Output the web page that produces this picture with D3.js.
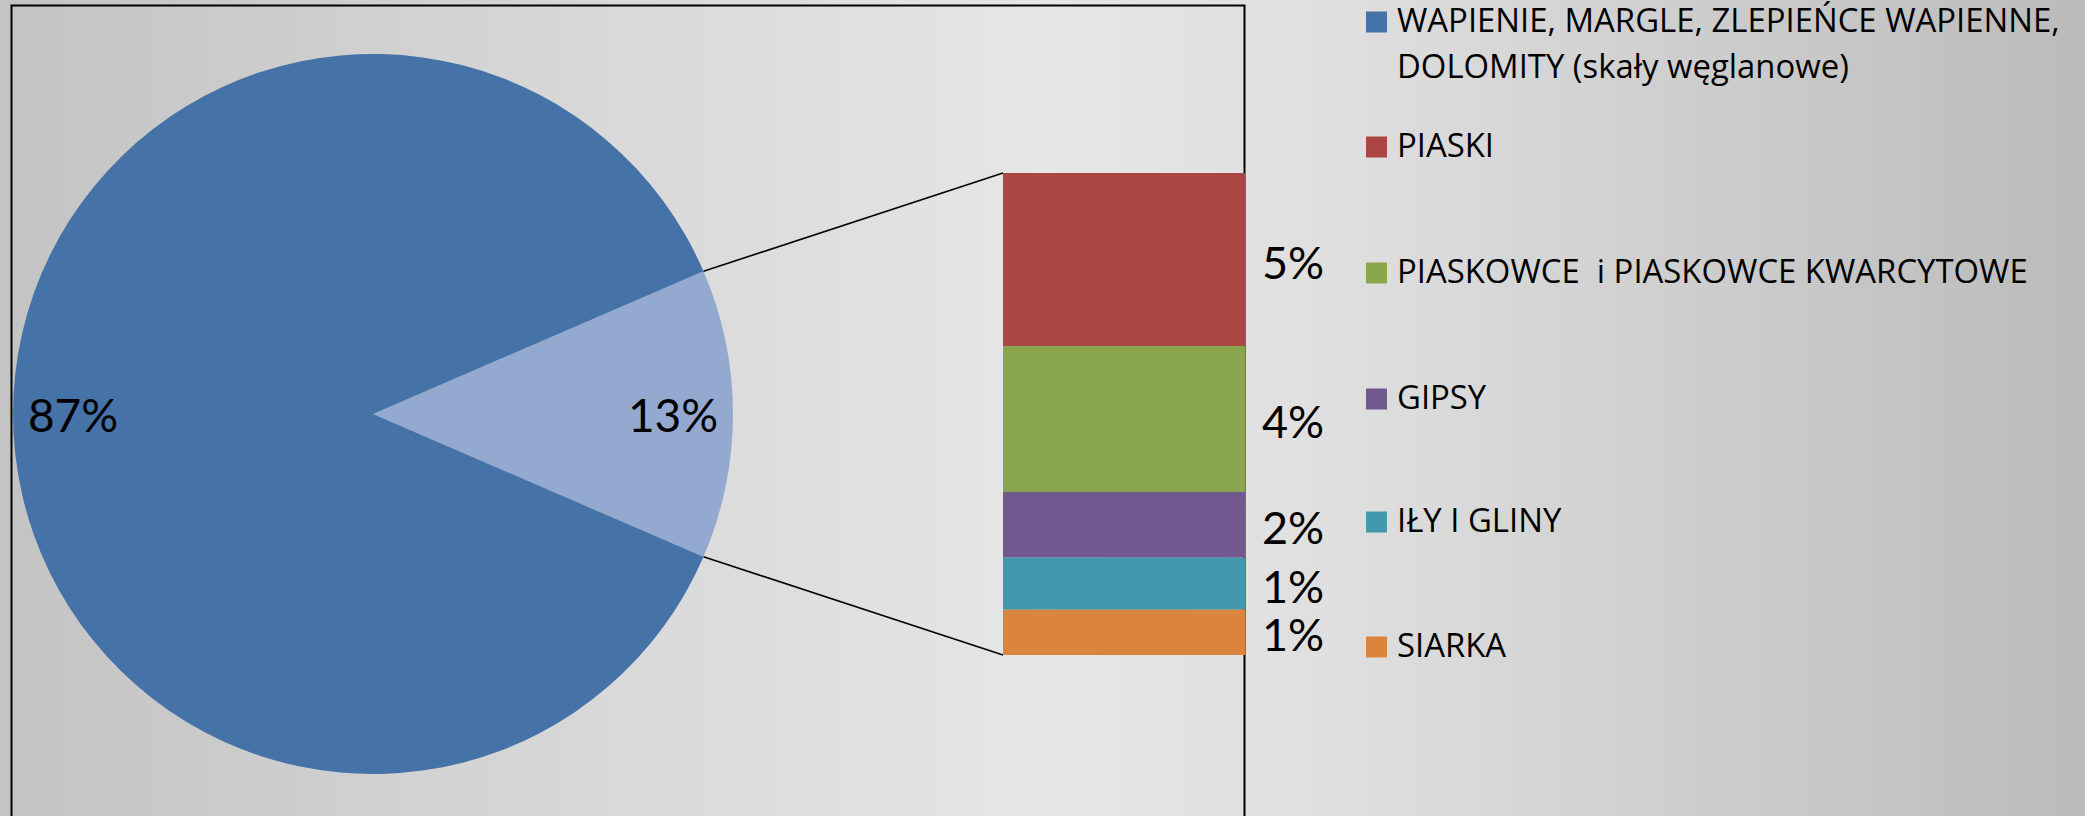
<!DOCTYPE html>
<html><head><meta charset="utf-8">
<script src="https://cdn.jsdelivr.net/npm/d3@7"></script>
<style>
html,body{margin:0;padding:0;overflow:hidden;background:#d8d8d8;}
svg{display:block;}
text{font-family:Lato, "Open Sans", sans-serif;fill:#000;white-space:pre;}
text.leg{font-family:"Open Sans", Lato, sans-serif;}
</style></head>
<body>
<svg id="chart" width="2085" height="816"></svg>
<script>
// ---- data ----
const pieCategories = ["Skały węglanowe", "Pozostałe"];
const pieValues = [87.02, 12.98];
const pieLabels = ["87%", "13%"];

const barCategories = ["PIASKI", "PIASKOWCE  i PIASKOWCE KWARCYTOWE", "GIPSY", "IŁY I GLINY", "SIARKA"];
const barValues = [4.66, 3.93, 1.77, 1.40, 1.22];
const barLabels = ["5%", "4%", "2%", "1%", "1%"];

const legendLabels = [
  ["WAPIENIE, MARGLE, ZLEPIEŃCE WAPIENNE,", "DOLOMITY (skały węglanowe)"],
  ["PIASKI"],
  ["PIASKOWCE  i PIASKOWCE KWARCYTOWE"],
  ["GIPSY"],
  ["IŁY I GLINY"],
  ["SIARKA"]
];
const legendColors = ["#4572A7", "#AA4643", "#89A54E", "#71588F", "#4198AF", "#DB843D"];
const pieColors = ["#4572A7", "#93A9CF"];

// ---- layout ----
const W = 2085, H = 816;
const svg = d3.select("#chart");
const defs = svg.append("defs");
const bg = defs.append("linearGradient").attr("id","bg").attr("x1","0").attr("x2","1").attr("y1","0").attr("y2","0");
[[0,"#c3c3c3"],[0.2,"#d2d2d2"],[0.5,"#e6e6e6"],[0.64,"#dfdfdf"],[0.8,"#cfcfcf"],[1,"#bbbbbb"]]
  .forEach(([o,c]) => bg.append("stop").attr("offset",o).attr("stop-color",c));
svg.append("rect").attr("width",W).attr("height",H).attr("fill","url(#bg)");

// frame (chart area)
svg.append("path")
  .attr("d","M11.5,820 V5.5 H1244.5 V820")
  .attr("fill","none").attr("stroke","#000").attr("stroke-width",2);

// pie
const cx = 373, cy = 414, R = 360;
const smallFrac = pieValues[1] / d3.sum(pieValues);
const start = Math.PI/2 - smallFrac*Math.PI;
const pie = d3.pie().sort(null).value(d => d.v)
  .startAngle(start).endAngle(start + 2*Math.PI);
const pieData = [
  {name: pieCategories[1], v: pieValues[1], label: pieLabels[1], color: pieColors[1]},
  {name: pieCategories[0], v: pieValues[0], label: pieLabels[0], color: pieColors[0]}
];
const arcs = pie(pieData);
const arc = d3.arc().innerRadius(0).outerRadius(R);
const labelArc = d3.arc().innerRadius(300).outerRadius(300);
const g = svg.append("g").attr("transform",`translate(${cx},${cy})`);
g.selectAll("path.slice").data(arcs).join("path")
  .attr("class","slice").attr("d",arc).attr("fill",d=>d.data.color);
g.selectAll("text.pl").data(arcs).join("text")
  .attr("class","pl")
  .attr("x", d => labelArc.centroid(d)[0])
  .attr("y", d => labelArc.centroid(d)[1])
  .attr("text-anchor","middle").attr("dominant-baseline","central")
  .attr("font-size",46)
  .text(d => d.data.label);

// bar of pie
const barX0 = 1003, barX1 = 1245;
const y = d3.scaleLinear().domain([0, d3.sum(barValues)]).range([655, 173]);
const stacked = [];
let acc = d3.sum(barValues);
barValues.forEach((v,i) => { stacked.push({name: barCategories[i], v, label: barLabels[i], top: acc, bot: acc - v, color: legendColors[i+1]}); acc -= v; });
svg.selectAll("rect.seg").data(stacked).join("rect")
  .attr("class","seg")
  .attr("x",barX0).attr("width",barX1-barX0)
  .attr("y",d=>y(d.top)).attr("height",d=>y(d.bot)-y(d.top))
  .attr("fill",d=>d.color);
svg.selectAll("text.bl").data(stacked).join("text")
  .attr("class","bl")
  .attr("x",1262).attr("y",d=>(y(d.top)+y(d.bot))/2 + 2)
  .attr("dominant-baseline","central").attr("font-size",45)
  .text(d=>d.label);

// connector lines
const sa = arcs[0].startAngle, ea = arcs[0].endAngle;
const p1 = [cx + R*Math.sin(sa), cy - R*Math.cos(sa)];
const p2 = [cx + R*Math.sin(ea), cy - R*Math.cos(ea)];
const yTop = y(d3.sum(barValues)), yBot = y(0);
svg.append("line").attr("x1",p1[0]).attr("y1",p1[1]).attr("x2",barX0).attr("y2",yTop)
  .attr("stroke","#000").attr("stroke-width",1.6);
svg.append("line").attr("x1",p2[0]).attr("y1",p2[1]).attr("x2",barX0).attr("y2",yBot)
  .attr("stroke","#000").attr("stroke-width",1.6);

// legend
const legY = [22, 147, 273, 399, 522, 647];
const lg = svg.append("g");
legendLabels.forEach((lines,i) => {
  lg.append("rect").attr("x",1366).attr("y",legY[i]-10.5).attr("width",21).attr("height",21).attr("fill",legendColors[i]);
  lines.forEach((t,j) => {
    lg.append("text").attr("class","leg").attr("x",1397).attr("y",legY[i] + 10 + j*46)
      .attr("font-size",28).text(t);
  });
});
// fit legend font so that the first line spans the same width as in the original
const first = lg.select("text.leg").node();
const targetW = 663;
const wNow = first.getComputedTextLength();
const fs = 28 * Math.min(1.2, Math.max(0.85, targetW / wNow));
lg.selectAll("text.leg").attr("font-size", fs);
</script>
</body></html>
